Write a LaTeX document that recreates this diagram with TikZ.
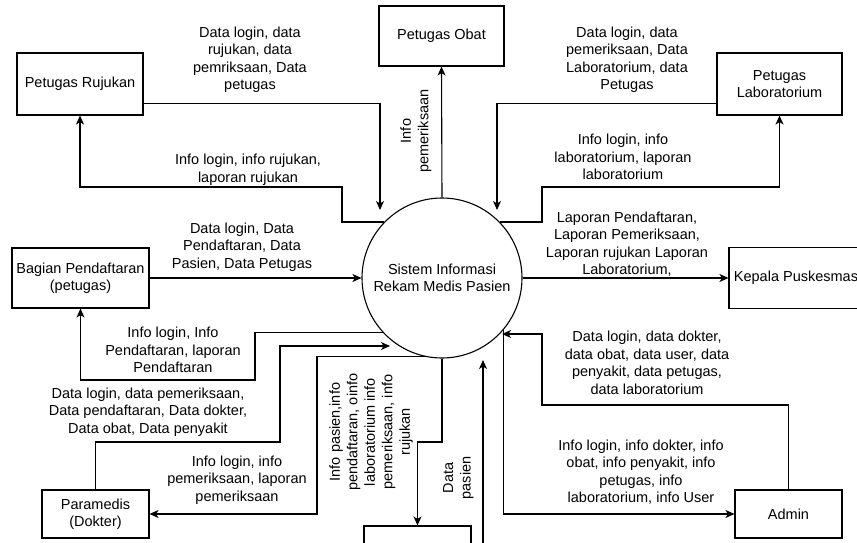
\documentclass[tikz,border=0pt]{standalone}
\usepackage{fontspec}
\setmainfont{Liberation Sans}
\usetikzlibrary{arrows.meta}
\tikzset{
    %Define standard arrow tip
    >={Stealth[length=9pt,width=8pt,inset=2.5pt]},
    %Define style for boxes
    entity/.style={
           rectangle,
           draw=black, line width=1.1pt,
           font=\fontsize{14.5}{17.5}\selectfont,
           align=center,
           inner sep=0pt,
           },
    process/.style={
           circle,
           draw=black, line width=1.1pt,
           minimum size=160pt,
           font=\fontsize{14.5}{17.5}\selectfont,
           align=center,
           inner sep=0pt,
           },
    flowlabel/.style={
           font=\fontsize{14.5}{17.5}\selectfont,
           align=center,
           inner sep=0pt,
           },
    % Define arrow style
    pil/.style={
           ->,
           line width=1.1pt,
           },
}
\begin{document}
\begin{tikzpicture}[x=1pt,y=-1pt]
\useasboundingbox (0,0) rectangle (857,543);

 %nodes
\node[process] (1) at (442,278) {Sistem Informasi\\Rekam Medis Pasien};
\node[entity, minimum width=126pt, minimum height=62pt] (2) at (80,84) {Petugas Rujukan};
\node[entity, minimum width=125pt, minimum height=60pt] (3) at (441.5,36) {Petugas Obat};
\node[entity, minimum width=125pt, minimum height=62pt] (4) at (779.5,84) {Petugas\\Laboratorium};
\node[entity, minimum width=137pt, minimum height=60pt] (5) at (80.5,278) {Bagian Pendaftaran\\(petugas)};
\node[entity, minimum width=134pt, minimum height=61pt] (6) at (796,278) {Kepala Puskesmas};
\node[entity, minimum width=107pt, minimum height=48pt] (7) at (95.5,514) {Paramedis\\(Dokter)};
\node[entity, minimum width=107pt, minimum height=48pt] (8) at (417.5,550) {};
\node[entity, minimum width=107pt, minimum height=48pt] (9) at (788.5,514) {Admin};
\coordinate (10) at (483,560);

 %flows
\draw[pil] ([yshift=12pt]2.south east) -| (380,210);
\draw[pil] (1.136) -| (342,187) -| (2.south);
\draw[pil] (1.north) -- (3.south);
\draw[pil] ([yshift=12pt]4.south west) -| (497,210);
\draw[pil] (1.44) -| (542,187) -| (4.south);
\draw[pil] (5.east) -- (1.west);
\draw[pil] (1.east) -- (6.west);
\draw[pil] (1.223) -| (255,380) -| (5.south);
\draw[pil] (7.north) |- (280,442) |- (390,346);
\draw[pil] (1.258) -| (317,514) -- (7.east);
\draw[pil] (1.south) |- (417.5,442) -- (8.north);
\draw[pil] (10) -- (483,360);
\draw[pil] (9.north) |- (542,405) |- (502,334);
\draw[pil] (1.320) |- (9.west);

 %labels
\node[flowlabel] at (250,60) {Data login, data\\rujukan, data\\pemriksaan, Data\\petugas};
\node[flowlabel] at (248,170) {Info login, info rujukan,\\laporan rujukan};
\node[flowlabel, rotate=90] at (416,131) {Info\\pemeriksaan};
\node[flowlabel] at (627,60) {Data login, data\\pemeriksaan, Data\\Laboratorium, data\\Petugas};
\node[flowlabel] at (623,157) {Info login, info\\laboratorium, laporan\\laboratorium};
\node[flowlabel] at (242,247) {Data login, Data\\Pendaftaran, Data\\Pasien, Data Petugas};
\node[flowlabel] at (627,244) {Laporan Pendaftaran,\\Laporan Pemeriksaan,\\Laporan rujukan Laporan\\Laboratorium,};
\node[flowlabel] at (173,350) {Info login, Info\\Pendaftaran, laporan\\Pendaftaran};
\node[flowlabel] at (148,412) {Data login, data pemeriksaan,\\Data pendaftaran, Data dokter,\\Data obat, Data penyakit};
\node[flowlabel] at (237,480) {Info login, info\\pemeriksaan, laporan\\pemeriksaan};
\node[flowlabel, rotate=90] at (371,432) {Info pasien,info\\pendaftaran, oinfo\\laboratorium info\\pemeriksaan, info\\rujukan};
\node[flowlabel, rotate=90] at (458.5,478) {Data\\pasien};
\node[flowlabel] at (647,363) {Data login, data dokter,\\data obat, data user, data\\penyakit, data petugas,\\data laboratorium};
\node[flowlabel] at (641,472) {Info login, info dokter, info\\obat, info penyakit, info\\petugas, info\\laboratorium, info User};

\end{tikzpicture}
\end{document}
